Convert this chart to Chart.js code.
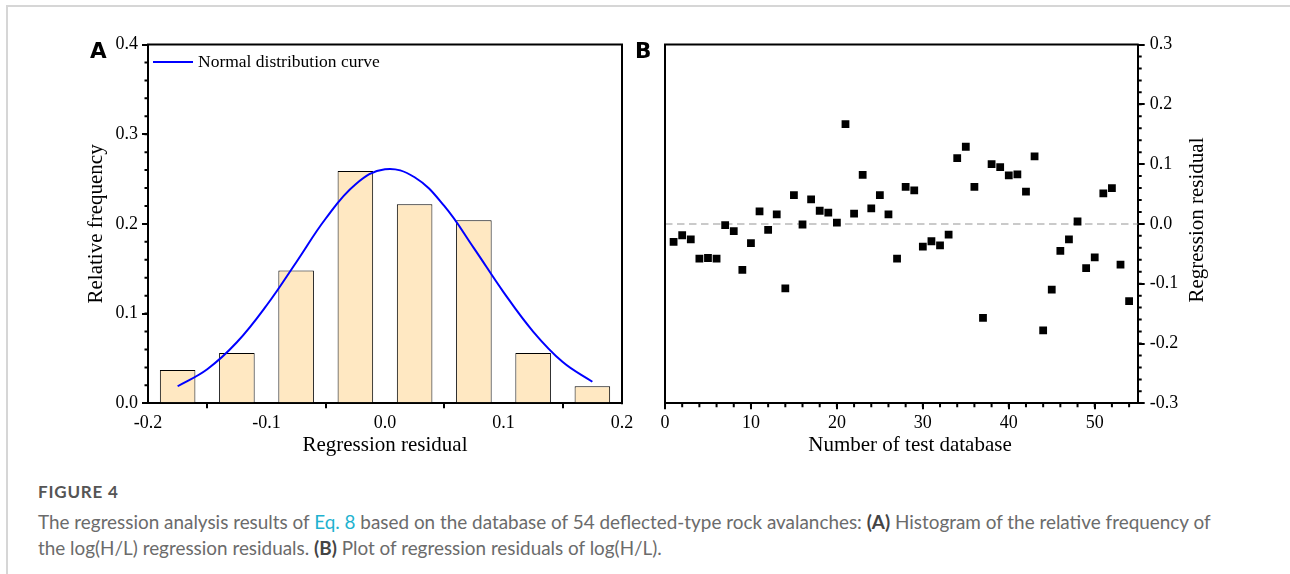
<!DOCTYPE html>
<html>
<head>
<meta charset="utf-8">
<script src="https://cdn.jsdelivr.net/npm/chart.js@4.4.0/dist/chart.umd.min.js"></script>
<style>
  html, body { margin: 0; padding: 0; background: #fff; }
  body { width: 1290px; height: 574px; position: relative; overflow: hidden; }
  #frame { position: absolute; left: 6px; top: 5px; width: 1300px; height: 600px;
           border-top: 2px solid #d6d6d6; border-left: 2px solid #d6d6d6; }
  #chartA { position: absolute; left: 0; top: 0; }
  #chartB { position: absolute; left: 640px; top: 0; }
  .panel { position: absolute; font: bold 21.5px "DejaVu Sans", Arial, sans-serif; color: #000; line-height: 22px; }
  #caption { position: absolute; left: 38px; top: 482px; font-family: Lato, sans-serif; color: #6b6b6b; }
  #caption .fig { font-size: 17px; font-weight: bold; color: #555; line-height: 20px; letter-spacing: 0.8px; }
  #caption .txt { font-size: 18.9px; line-height: 26px; margin-top: 7px; }
  #caption .eq { color: #1fb2cf; }
  #caption b { color: #444; }
</style>
</head>
<body>
<div id="frame"></div>
<canvas id="chartA" width="640" height="470"></canvas>
<canvas id="chartB" width="650" height="470"></canvas>
<div class="panel" style="left:90px; top:40px;">A</div>
<div class="panel" style="left:635px; top:40px;">B</div>
<div id="caption">
  <div class="fig">FIGURE 4</div>
  <div class="txt">The regression analysis results of <span class="eq">Eq. 8</span> based on the database of 54 deflected-type rock avalanches: <b>(A)</b> Histogram of the relative frequency of<br>the log(H/L) regression residuals. <b>(B)</b> Plot of regression residuals of log(H/L).</div>
</div>
<script>
// (A) histogram of residuals
const binCenters = [-0.175, -0.125, -0.075, -0.025, 0.025, 0.075, 0.125, 0.175];
const relFreq = [0.037, 0.056, 0.148, 0.259, 0.222, 0.204, 0.056, 0.019];
// normal curve
const curveX = [-0.175, -0.15, -0.125, -0.1, -0.075, -0.05, -0.025, 0, 0.025, 0.05, 0.075, 0.1, 0.125, 0.15, 0.175];
const curveY = [0.019, 0.038, 0.068, 0.109, 0.157, 0.206, 0.244, 0.261, 0.252, 0.220, 0.173, 0.124, 0.080, 0.046, 0.024];
const xTicksA = [-0.2, -0.1, 0, 0.1, 0.2];
const yTicksA = [0, 0.1, 0.2, 0.3, 0.4];

// (B) residual of each test case
const caseNo = [];
for (let i = 1; i <= 54; i++) caseNo.push(i);
const residuals = [
  -0.030, -0.019, -0.026, -0.058, -0.057, -0.058, -0.002, -0.012, -0.077, -0.032,
   0.021, -0.010,  0.016, -0.108,  0.048, -0.001,  0.041,  0.022,  0.019,  0.002,
   0.167,  0.017,  0.082,  0.026,  0.048,  0.016, -0.058,  0.062,  0.056, -0.038,
  -0.029, -0.036, -0.018,  0.110,  0.129,  0.062, -0.157,  0.100,  0.095,  0.081,
   0.083,  0.054,  0.113, -0.178, -0.110, -0.045, -0.026,  0.004, -0.074, -0.056,
   0.051,  0.060, -0.068, -0.129
];
const xTicksB = [0, 10, 20, 30, 40, 50];
const yTicksB = [-0.3, -0.2, -0.1, 0, 0.1, 0.2, 0.3];

const serif = '"Liberation Serif", "Times New Roman", serif';
const tickFont = { family: serif, size: 18 };

function axisStyle(tickLen, pad) {
  return {
    grid: { drawOnChartArea: false, drawTicks: true, tickLength: tickLen, color: '#000', lineWidth: 2 },
    border: { display: true, color: '#000', width: 2 },
    ticks: { font: tickFont, color: '#000', padding: pad, maxRotation: 0, autoSkip: false,
             callback: v => v.toFixed(1) }
  };
}

function minorTicks(ctx, scale, from, to, step, len, dir) {
  const area = scale.chart.chartArea;
  ctx.save();
  ctx.strokeStyle = '#000';
  ctx.lineWidth = 2;
  ctx.beginPath();
  for (let v = from; v <= to + 1e-9; v += step) {
    const p = scale.getPixelForValue(v);
    if (dir === 'left') { ctx.moveTo(area.left, p); ctx.lineTo(area.left - len, p); }
    if (dir === 'right') { ctx.moveTo(area.right, p); ctx.lineTo(area.right + len, p); }
    if (dir === 'down') { ctx.moveTo(p, area.bottom); ctx.lineTo(p, area.bottom + len); }
  }
  ctx.stroke();
  ctx.restore();
}

const decorA = {
  id: 'decorA',
  afterDraw(chart) {
    const ctx = chart.ctx, a = chart.chartArea;
    ctx.save();
    ctx.strokeStyle = '#000';
    ctx.lineWidth = 2;
    ctx.beginPath();
    ctx.moveTo(a.left - 1, a.top);
    ctx.lineTo(a.right, a.top);
    ctx.lineTo(a.right, a.bottom + 1);
    ctx.stroke();
    // legend
    ctx.strokeStyle = '#0000ff';
    ctx.beginPath();
    ctx.moveTo(a.left + 5, 62);
    ctx.lineTo(a.left + 45, 62);
    ctx.stroke();
    ctx.fillStyle = '#000';
    ctx.font = '17.5px ' + serif;
    ctx.textBaseline = 'middle';
    ctx.fillText('Normal distribution curve', a.left + 50, 62);
    ctx.restore();
    minorTicks(ctx, chart.scales.y, 0.02, 0.38, 0.02, 3.5, 'left');
  }
};

new Chart(document.getElementById('chartA'), {
  type: 'bar',
  data: {
    datasets: [
      {
        type: 'line',
        label: 'Normal distribution curve',
        data: curveX.map((x, i) => ({ x: x, y: curveY[i] })),
        borderColor: '#0000ff',
        borderWidth: 2,
        pointRadius: 0,
        tension: 0.4,
        order: 0
      },
      {
        type: 'bar',
        label: 'Relative frequency',
        data: binCenters.map((x, i) => ({ x: x, y: relFreq[i] })),
        backgroundColor: '#ffe8c2',
        borderColor: '#000',
        borderWidth: 1,
        barPercentage: 0.6,
        categoryPercentage: 1,
        order: 1
      }
    ]
  },
  options: {
    responsive: false,
    animation: false,
    layout: { padding: { top: 44.5, right: 18, left: 0, bottom: 0 } },
    plugins: { legend: { display: false }, tooltip: { enabled: false } },
    scales: {
      x: Object.assign(axisStyle(5, 4), {
        type: 'linear', min: -0.2, max: 0.2, offset: false,
        afterBuildTicks: s => { s.ticks = xTicksA.map(v => ({ value: v })); },
        afterFit: s => { s.height = 66.7; },
        title: { display: true, text: 'Regression residual', color: '#000',
                 font: { family: serif, size: 21 }, padding: { top: 0, bottom: 12 } }
      }),
      y: Object.assign(axisStyle(6, 4), {
        min: 0, max: 0.4,
        afterBuildTicks: s => { s.ticks = yTicksA.map(v => ({ value: v })); },
        afterFit: s => { s.width = 148; },
        title: { display: true, text: 'Relative frequency', color: '#000',
                 font: { family: serif, size: 21 }, padding: { top: 84, bottom: 0 } }
      })
    }
  },
  plugins: [decorA]
});

const decorB = {
  id: 'decorB',
  beforeDatasetsDraw(chart) {
    const ctx = chart.ctx, a = chart.chartArea;
    const y0 = chart.scales.y.getPixelForValue(0);
    ctx.save();
    ctx.strokeStyle = '#b9b9b9';
    ctx.lineWidth = 1.5;
    ctx.setLineDash([7.5, 4.5]);
    ctx.beginPath();
    ctx.moveTo(a.left, y0);
    ctx.lineTo(a.right, y0);
    ctx.stroke();
    ctx.restore();
  },
  afterDraw(chart) {
    const ctx = chart.ctx, a = chart.chartArea;
    ctx.save();
    ctx.strokeStyle = '#000';
    ctx.lineWidth = 2;
    ctx.beginPath();
    ctx.moveTo(a.left, a.bottom + 1);
    ctx.lineTo(a.left, a.top);
    ctx.lineTo(a.right + 1, a.top);
    ctx.stroke();
    ctx.fillStyle = '#000';
    ctx.font = '21px ' + serif;
    ctx.textAlign = 'center';
    ctx.textBaseline = 'middle';
    ctx.fillText('Number of test database', 270, 445);
    ctx.translate(557.7, 220);
    ctx.rotate(-Math.PI / 2);
    ctx.fillText('Regression residual', 0, 0);
    ctx.restore();
    minorTicks(ctx, chart.scales.x, 2, 54, 2, 4, 'down');
    minorTicks(ctx, chart.scales.y, -0.28, 0.28, 0.02, 4, 'right');
  }
};

const axisB = axisStyle(6, 3);
new Chart(document.getElementById('chartB'), {
  type: 'scatter',
  data: {
    datasets: [{
      label: 'Regression residual',
      data: caseNo.map((n, i) => ({ x: n, y: residuals[i] })),
      pointStyle: 'rect',
      pointRadius: 5.5,
      pointBackgroundColor: '#000',
      pointBorderWidth: 0
    }]
  },
  options: {
    responsive: false,
    animation: false,
    layout: { padding: { top: 44.5, right: 0, left: 25, bottom: 0 } },
    plugins: { legend: { display: false }, tooltip: { enabled: false } },
    scales: {
      x: Object.assign(axisStyle(6, 3), {
        type: 'linear', min: 0, max: 55,
        afterBuildTicks: s => { s.ticks = xTicksB.map(v => ({ value: v })); },
        afterFit: s => { s.height = 66.7; },
        ticks: Object.assign({}, axisB.ticks, { callback: v => String(v) })
      }),
      y: Object.assign(axisStyle(7, 5), {
        position: 'right', min: -0.3, max: 0.3,
        afterBuildTicks: s => { s.ticks = yTicksB.map(v => ({ value: v })); },
        afterFit: s => { s.width = 152.3; }
      })
    }
  },
  plugins: [decorB]
});
</script>
</body>
</html>
